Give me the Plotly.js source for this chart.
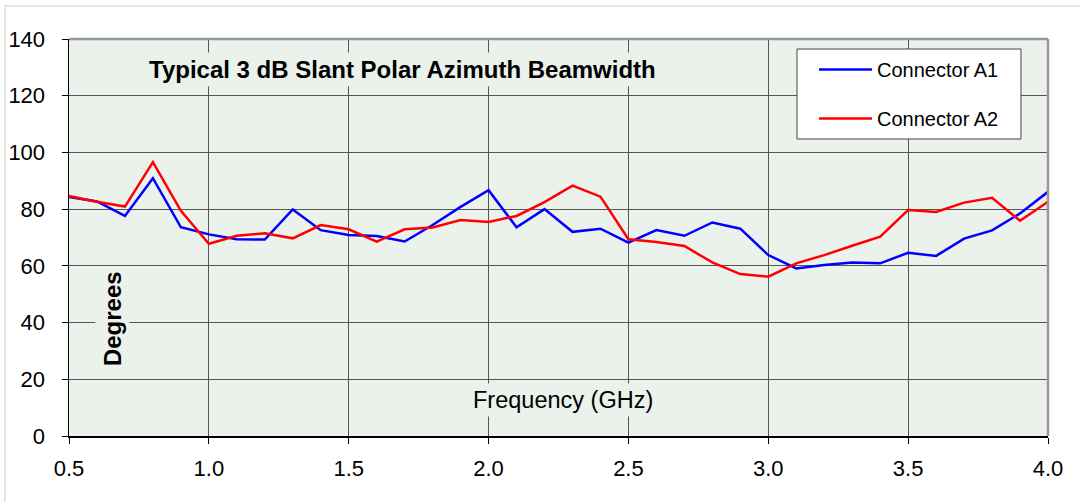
<!DOCTYPE html>
<html>
<head>
<meta charset="utf-8">
<script src="https://cdn.plot.ly/plotly-3.0.1.min.js"></script>
<style>html,body{margin:0;padding:0;background:#fff;}#chart{width:1080px;height:502px;}</style>
</head>
<body>
<div id="chart"></div>
<script>
const freqGHz = [0.5,0.6,0.7,0.8,0.9,1.0,1.1,1.2,1.3,1.4,1.5,1.6,1.7,1.8,1.9,2.0,2.1,2.2,2.3,2.4,2.5,2.6,2.7,2.8,2.9,3.0,3.1,3.2,3.3,3.4,3.5,3.6,3.7,3.8,3.9,4.0];
const connectorA1 = [84.3,82.7,77.6,90.9,73.6,71.1,69.4,69.3,79.9,72.6,70.9,70.5,68.6,74.4,80.8,86.7,73.6,80.0,72.0,73.1,68.2,72.6,70.6,75.3,73.1,63.8,59.1,60.3,61.2,60.9,64.6,63.5,69.6,72.5,78.5,86.1];
const connectorA2 = [84.6,82.6,80.9,96.6,79.4,67.8,70.6,71.5,69.7,74.4,72.9,68.5,72.9,73.5,76.2,75.5,77.6,82.5,88.3,84.4,69.4,68.4,67.0,61.2,57.1,56.2,60.9,63.8,67.1,70.3,79.7,79.0,82.3,84.0,75.9,82.6];
const seriesNames = ["Connector A1","Connector A2"];
const yTicks = [0,20,40,60,80,100,120,140];
const xTicks = [0.5,1.0,1.5,2.0,2.5,3.0,3.5,4.0];
const xTickText = ["0.5","1.0","1.5","2.0","2.5","3.0","3.5","4.0"];
const chartTitle = "Typical 3 dB Slant Polar Azimuth Beamwidth";
const xLabel = "Frequency (GHz)";
const yLabel = "Degrees";

const FONT = "Liberation Sans, Arial, sans-serif";
const PLOTBG = "#EBF1EB";

const traces = [
  {x: freqGHz, y: connectorA1, name: seriesNames[0], type: "scatter", mode: "lines",
   line: {color: "#0000FF", width: 2.5}, legendgroup: "a1"},
  {x: freqGHz, y: connectorA2, name: seriesNames[1], type: "scatter", mode: "lines",
   line: {color: "#FF0000", width: 2.5}, legendgroup: "a2"}
];

const layout = {
  width: 1080, height: 502,
  margin: {l: 69, r: 32, t: 39, b: 66},
  paper_bgcolor: "#FFFFFF",
  plot_bgcolor: PLOTBG,
  font: {family: FONT, color: "#000"},
  showlegend: true,
  legend: {
    x: 0.761, xanchor: "left", y: 0.8615, yanchor: "middle",
    bgcolor: "rgba(0,0,0,0)", borderwidth: 0,
    font: {family: FONT, size: 20, color: "#000"},
    traceorder: "grouped", tracegroupgap: 20, itemwidth: 53
  },
  xaxis: {
    range: [0.5, 4.0], tickvals: xTicks, ticktext: xTickText,
    showgrid: true, gridcolor: "#555", gridwidth: 1, zeroline: false,
    showline: true, linecolor: "#000", linewidth: 1.5,
    ticks: "outside", ticklen: 6, tickcolor: "#000", tickwidth: 1,
    tickfont: {family: FONT, size: 22, color: "#000"},
    ticklabelstandoff: 6, fixedrange: true
  },
  yaxis: {
    range: [0, 140], tickvals: yTicks,
    showgrid: true, gridcolor: "#555", gridwidth: 1, zeroline: false,
    showline: true, linecolor: "#000", linewidth: 1.5,
    ticks: "outside", ticklen: 6, tickcolor: "#000", tickwidth: 1,
    tickfont: {family: FONT, size: 22, color: "#000"},
    ticklabelstandoff: 12, fixedrange: true
  },
  shapes: [
    {type: "rect", xref: "paper", yref: "paper", x0: -0.0654, x1: 1.2, y0: -0.3, y1: 1.0831,
     line: {color: "#E3EAE3", width: 2}, fillcolor: "rgba(0,0,0,0)", layer: "below"},
    {type: "line", xref: "paper", yref: "paper", x0: 0, x1: 1, y0: 1, y1: 1,
     line: {color: "#999", width: 2.5}},
    {type: "line", xref: "paper", yref: "paper", x0: 1, x1: 1, y0: 0, y1: 1,
     line: {color: "#999", width: 2.5}},
    {type: "rect", xref: "paper", yref: "paper", x0: 0.7436, x1: 0.9724, y0: 0.7481, y1: 0.9748,
     line: {color: "#444", width: 1}, fillcolor: "#FFFFFF", layer: "above"}
  ],
  annotations: [
    {text: "<b>" + chartTitle + "</b>", xref: "paper", yref: "paper", x: 0.3407, y: 0.922,
     xanchor: "center", yanchor: "middle", showarrow: false,
     font: {family: FONT, size: 24, color: "#000"}, bgcolor: PLOTBG, borderpad: 3},
    {text: xLabel, xref: "paper", yref: "paper", x: 0.5046, y: 0.0907,
     xanchor: "center", yanchor: "middle", showarrow: false,
     font: {family: FONT, size: 23.5, color: "#000"}, bgcolor: PLOTBG, borderpad: 3},
    {text: "<b>" + yLabel + "</b>", xref: "paper", yref: "paper", x: 0.0439, y: 0.297,
     xanchor: "center", yanchor: "middle", showarrow: false, textangle: -90,
     font: {family: FONT, size: 24, color: "#000"}, bgcolor: PLOTBG, borderpad: 3}
  ]
};

Plotly.newPlot("chart", traces, layout, {displayModeBar: false, staticPlot: true});
</script>
</body>
</html>
